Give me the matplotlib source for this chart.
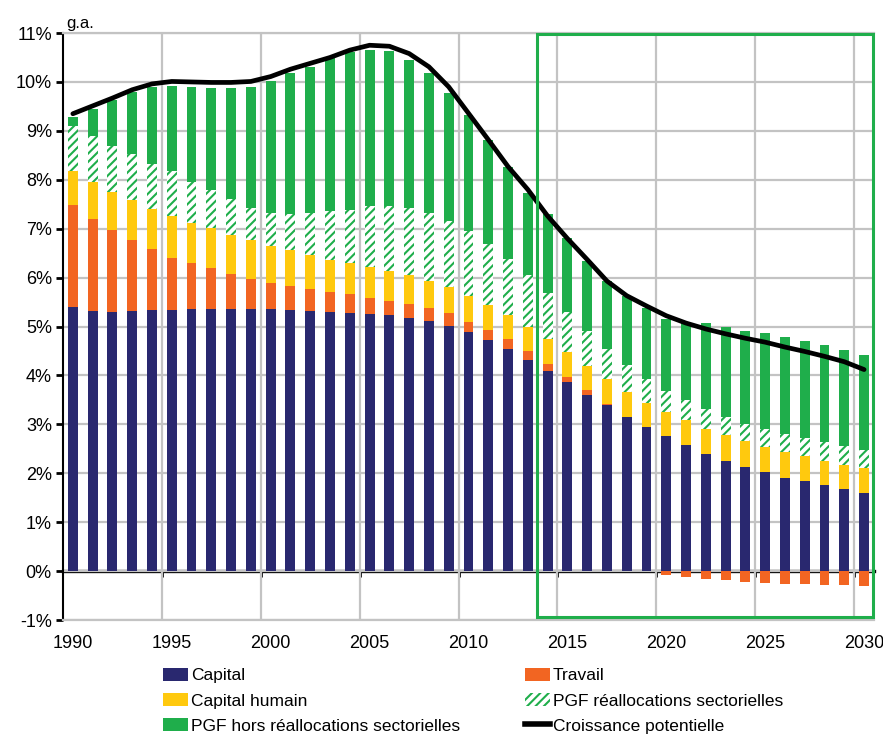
import matplotlib
matplotlib.use("Agg")
import matplotlib.pyplot as plt
import numpy as np
from matplotlib.patches import Rectangle, Patch
from matplotlib.lines import Line2D

plt.rcParams["font.family"] = ["Liberation Sans", "DejaVu Sans"]
plt.rcParams["hatch.linewidth"] = 1.5

# Donnees (en %)
annees = np.arange(1990, 2031)
capital = [5.39, 5.31, 5.30, 5.31, 5.33, 5.34, 5.36, 5.36, 5.36, 5.36, 5.35,
           5.34, 5.31, 5.30, 5.27, 5.26, 5.23, 5.17, 5.11, 5.02, 4.88,
           4.73, 4.54, 4.32, 4.10, 3.86, 3.61, 3.39, 3.15, 2.95, 2.76,
           2.57, 2.40, 2.25, 2.12, 2.03, 1.91, 1.84, 1.75, 1.68, 1.60]
travail = [2.10, 1.89, 1.67, 1.45, 1.26, 1.07, 0.93, 0.83, 0.71, 0.62, 0.54,
           0.49, 0.45, 0.41, 0.39, 0.33, 0.30, 0.29, 0.26, 0.25, 0.22,
           0.20, 0.21, 0.17, 0.14, 0.11, 0.10, 0.03, 0.01, 0.00, -0.07,
           -0.12, -0.16, -0.18, -0.22, -0.24, -0.26, -0.27, -0.29, -0.29, -0.31]
capital_humain = [0.68, 0.76, 0.78, 0.82, 0.82, 0.85, 0.83, 0.83, 0.81, 0.79, 0.76,
                  0.73, 0.70, 0.66, 0.63, 0.63, 0.61, 0.59, 0.56, 0.53, 0.53,
                  0.51, 0.49, 0.51, 0.51, 0.50, 0.49, 0.51, 0.50, 0.49, 0.49,
                  0.51, 0.51, 0.53, 0.53, 0.51, 0.53, 0.51, 0.50, 0.48, 0.50]
pgf_realloc = [0.92, 0.93, 0.95, 0.95, 0.92, 0.91, 0.84, 0.77, 0.72, 0.66, 0.68,
               0.75, 0.87, 0.99, 1.10, 1.24, 1.32, 1.38, 1.40, 1.36, 1.32,
               1.24, 1.15, 1.05, 0.93, 0.82, 0.71, 0.61, 0.56, 0.49, 0.44,
               0.41, 0.41, 0.37, 0.36, 0.37, 0.37, 0.37, 0.38, 0.39, 0.38]
pgf_hors = [0.20, 0.55, 0.93, 1.27, 1.57, 1.75, 1.94, 2.08, 2.27, 2.47, 2.68,
            2.87, 2.98, 3.12, 3.23, 3.20, 3.18, 3.02, 2.85, 2.61, 2.38,
            2.14, 1.88, 1.68, 1.62, 1.51, 1.43, 1.39, 1.41, 1.45, 1.46,
            1.60, 1.75, 1.85, 1.90, 1.95, 1.98, 1.99, 1.99, 1.98, 1.93]
croissance = [9.35, 9.51, 9.67, 9.84, 9.96, 10.01, 10.00, 9.99, 9.99, 10.01, 10.11,
              10.26, 10.38, 10.50, 10.65, 10.75, 10.73, 10.58, 10.31, 9.90, 9.36,
              8.82, 8.27, 7.80, 7.26, 6.80, 6.37, 5.93, 5.63, 5.42, 5.22,
              5.07, 4.95, 4.85, 4.76, 4.68, 4.58, 4.49, 4.39, 4.28, 4.12]

c_capital = "#29286f"
c_travail = "#f26522"
c_humain = "#ffc90e"
c_vert = "#1fae4b"
c_grille = "#c3c3c3"
taille = 13

fig = plt.figure(figsize=(8.83, 7.34), dpi=100)
ax = fig.add_axes([0.0713, 0.1553, 0.9185, 0.7997])

#*********************
# Barres empilees
#*********************
cap = np.array(capital)
trav = np.array(travail)
hum = np.array(capital_humain)
rea = np.array(pgf_realloc)
hors = np.array(pgf_hors)
larg = 0.5

base = cap + np.clip(trav, 0, None)
ax.bar(annees, cap, larg, color=c_capital, lw=0)
ax.bar(annees, trav, larg, bottom=np.where(trav > 0, cap, 0), color=c_travail, lw=0)
ax.bar(annees, hum, larg, bottom=base, color=c_humain, lw=0)
ax.bar(annees, rea, larg, bottom=base + hum, color="white", edgecolor=c_vert,
       hatch="////", lw=0)
ax.bar(annees, hors, larg, bottom=base + hum + rea, color=c_vert, lw=0)

# Courbe de croissance potentielle
ax.plot(annees, croissance, color="black", lw=3.4, solid_capstyle="round", zorder=5)

#*********************
# Axes et grille
#*********************
ax.set_xlim(1989.5, 2030.5)
ax.set_ylim(-1, 11)
ax.set_axisbelow(True)

yt = np.arange(-1, 12)
ax.set_yticks(yt, [f"{v}%" for v in yt])
ax.tick_params(axis="y", direction="out", length=5, width=2, pad=3,
               labelsize=taille, colors="black")
ax.grid(axis="y", color=c_grille, lw=1.6)

# Grille verticale entre les categories, etiquettes au centre
sep = np.arange(1994.5, 2030, 5)
ax.set_xticks(sep, [""] * len(sep))
ax.set_xticks(np.arange(1990, 2031, 5), minor=True)
ax.set_xticklabels([str(a) for a in range(1990, 2031, 5)], minor=True)
ax.tick_params(axis="x", which="major", length=0)
ax.tick_params(axis="x", which="minor", length=0, pad=11, labelsize=taille)
ax.grid(axis="x", which="major", color=c_grille, lw=1.6)

ax.spines["left"].set_linewidth(1.5)
ax.spines["right"].set_visible(False)
ax.spines["top"].set_color(c_grille)
ax.spines["top"].set_linewidth(1.6)
ax.spines["bottom"].set_color(c_grille)
ax.spines["bottom"].set_linewidth(1.6)

# Axe des abscisses a 0%
zero = ax.secondary_xaxis(1 / 12)
zero.set_xticks(sep, [""] * len(sep))
zero.tick_params(direction="out", length=4, width=2, color="black")
zero.spines["bottom"].set_linewidth(2.4)
zero.spines["bottom"].set_color("black")

ax.text(0.004, 1.004, "g.a.", transform=ax.transAxes, fontsize=12,
        ha="left", va="bottom")

# Cadre vert de la projection
ax.add_patch(Rectangle((2013.45, -0.93), 17.0, 11.9, fill=False,
                       edgecolor=c_vert, lw=2.2, clip_on=False, zorder=6))

#*********************
# Legende
#*********************
h_cap = Patch(facecolor=c_capital, label="Capital")
h_hum = Patch(facecolor=c_humain, label="Capital humain")
h_hors = Patch(facecolor=c_vert, label="PGF hors réallocations sectorielles")
h_trav = Patch(facecolor=c_travail, label="Travail")
h_rea = Patch(facecolor="white", edgecolor=c_vert, hatch="////", lw=0,
              label="PGF réallocations sectorielles")
h_cr = Line2D([], [], color="black", lw=4, label="Croissance potentielle")

opts = dict(frameon=False, fontsize=12.5, handlelength=1.45, handleheight=0.75,
            handletextpad=0.15, labelspacing=0.56, borderpad=0, borderaxespad=0,
            loc="upper left")
fig.legend(handles=[h_cap, h_hum, h_hors], bbox_to_anchor=(163 / 883, 1 - 668 / 734), **opts)
fig.legend(handles=[h_trav, h_rea, h_cr], bbox_to_anchor=(525 / 883, 1 - 668 / 734), **opts)

plt.savefig("out.png", dpi=100)
